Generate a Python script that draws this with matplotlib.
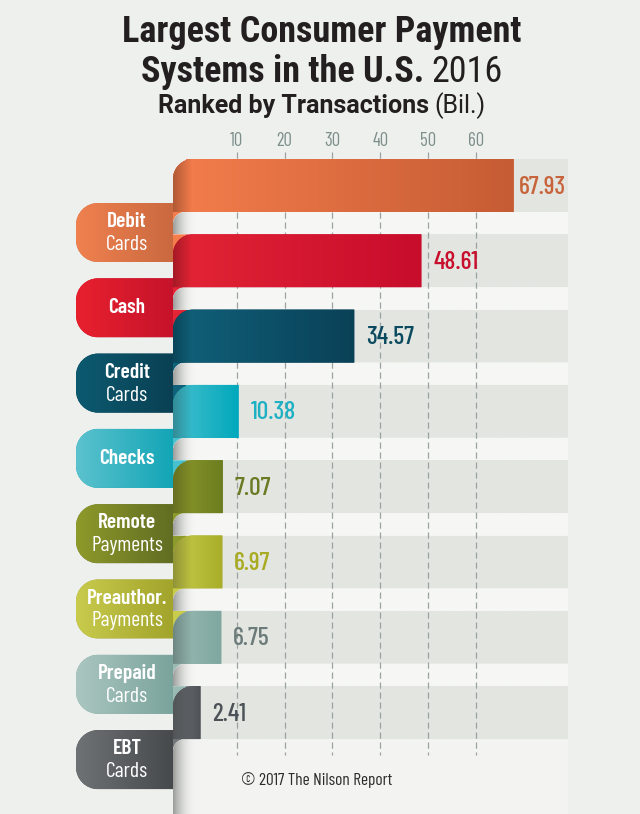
import numpy as np
import matplotlib
matplotlib.use("Agg")
import matplotlib.pyplot as plt
from matplotlib.path import Path
from matplotlib.patches import PathPatch
from matplotlib.colors import LinearSegmentedColormap, to_rgba

FONT = ['Barlow Condensed', 'Roboto Condensed', 'DejaVu Sans']
TITLE_FONT = ['Roboto Condensed', 'Barlow Condensed', 'DejaVu Sans']
SUB_FONT = ['Roboto', 'Roboto Condensed', 'DejaVu Sans']

# data
categories = ["Debit\nCards", "Cash", "Credit\nCards", "Checks", "Remote\nPayments",
              "Preauthor.\nPayments", "Prepaid\nCards", "EBT\nCards"]
values = [67.93, 48.61, 34.57, 10.38, 7.07, 6.97, 6.75, 2.41]
tick_values = [10, 20, 30, 40, 50, 60]

bar_colors = [("#f47d4c", "#c65c34"), ("#e42535", "#c70c2c"), ("#10617a", "#0a4157"),
              ("#48c0cf", "#00a8bb"), ("#8d9a2d", "#6c7d1f"), ("#c8cc4c", "#a8ae28"),
              ("#9abbb4", "#7fa6a0"), ("#74787c", "#4e5256")]
label_colors = [("#f0814f", "#c8683f"), ("#e8202e", "#c4132b"), ("#0c5a70", "#0a3f52"),
                ("#5cc2ce", "#0fa4b5"), ("#8e9a2a", "#5f6b22"), ("#c8cb4c", "#a0a22a"),
                ("#abc6c0", "#78a29b"), ("#6e7275", "#45484b")]
value_colors = ["#c8643c", "#c8102e", "#0b4a5f", "#20b0c4", "#6b7a25", "#a9ab22",
                "#6b7b79", "#4c5257"]

W, H = 640, 814
X0, SX = 189.0, 4.78   # pixel of value 0, px per unit
Y0, SY = 185.5, 75.3   # pixel centre of first bar, px per row

fig = plt.figure(figsize=(6.4, 8.14), dpi=100)
fig.patch.set_facecolor('#eef0ee')
ax = fig.add_axes([0, 0, 1, 1])
ax.axis('off')
ax.set_xlim(-X0 / SX, (W - X0) / SX)
ax.set_ylim((H - Y0) / SY, -Y0 / SY)
renderer = fig.canvas.get_renderer()


def px_x(p):
    return (p - X0) / SX


def px_y(p):
    return (p - Y0) / SY


K = 0.5523


def rounded(x0, x1, yt, yb, r_tl, r_bl):
    rxt, ryt = r_tl / SX, r_tl / SY
    rxb, ryb = r_bl / SX, r_bl / SY
    verts = [(x1, yt), (x0 + rxt, yt),
             (x0 + rxt * (1 - K), yt), (x0, yt + ryt * (1 - K)), (x0, yt + ryt),
             (x0, yb - ryb),
             (x0, yb - ryb * (1 - K)), (x0 + rxb * (1 - K), yb), (x0 + rxb, yb),
             (x1, yb), (x1, yt)]
    codes = [Path.MOVETO, Path.LINETO, Path.CURVE4, Path.CURVE4, Path.CURVE4, Path.LINETO,
             Path.CURVE4, Path.CURVE4, Path.CURVE4, Path.LINETO, Path.CLOSEPOLY]
    return Path(verts, codes)


def fill(path, c1, c2, z, xa=None, xb=None):
    patch = PathPatch(path, facecolor=c2 if xa is None else 'none', edgecolor='none', zorder=z)
    ax.add_patch(patch)
    ext = path.get_extents()
    if xa is None:
        xa, xb = ext.x0, ext.x1
    cmap = LinearSegmentedColormap.from_list('g', [to_rgba(c1), to_rgba(c2)])
    im = ax.imshow(np.linspace(0, 1, 256)[None, :], cmap=cmap, extent=[xa, xb, ext.y1, ext.y0],
                   aspect='auto', zorder=z + 0.01, interpolation='bilinear')
    im.set_clip_path(patch)
    return patch


left = px_x(173)
right = px_x(568)
half = 26.5 / SY
n = len(values)

for i, (cat, v) in enumerate(zip(categories, values)):
    top, bot = i - half, i + half
    lc = i + 47 / SY
    # label pill
    fill(rounded(px_x(76), px_x(176), lc - 29.5 / SY, lc + 29.5 / SY, 22, 22),
         label_colors[i][0], label_colors[i][1], 2)
    # curl column hidden behind next ribbon
    fill(rounded(left, px_x(186), top, lc + 29.5 / SY, 20, 0),
         bar_colors[i][0], bar_colors[i][0], 2.5)
    # white back of ribbon (gap band)
    if i > 0:
        band = rounded(left, right, i - 1 + half, top + 0.001, 12, 0)
        fill(band, "#f6f7f5", "#f6f7f5", 3)
        fill(band, "#9a9c9a", to_rgba("#f6f7f5", 0), 3.1, left, px_x(196))
    # track
    ax.barh(i, right - v, left=v, height=2 * half, color="#e3e6e0", zorder=3)
    # bar
    bar = rounded(left, v, top, bot, 20, 0)
    fill(bar, bar_colors[i][0], bar_colors[i][1], 5)
    fill(bar, to_rgba('k', 0.28), to_rgba('k', 0), 5.1, left, px_x(192))
    # value
    t = ax.text(v + 12 / SX, i + 0.02, f"{v:.2f}", ha='left', va='center', fontsize=18.5,
                family=FONT, fontweight='medium', color=value_colors[i], zorder=7)
    if t.get_window_extent(renderer).x1 > 566:
        t.set_x(px_x(566))
        t.set_ha('right')
    # category text
    lines = cat.split("\n")
    cx = px_x(127)
    if len(lines) == 1:
        ax.text(cx, lc, lines[0], ha='center', va='center', fontsize=15.5, family=FONT,
                fontweight='semibold', color='white', zorder=7)
    else:
        ax.text(cx, lc - 11 / SY, lines[0], ha='center', va='center', fontsize=15.5, family=FONT,
                fontweight='semibold', color='white', zorder=7)
        ax.text(cx, lc + 12 / SY, lines[1], ha='center', va='center', fontsize=15.5, family=FONT,
                color='white', zorder=7)

# bottom white panel
last = rounded(left, right, n - 1 + half, px_y(814), 12, 0)
fill(last, "#f3f4f2", "#f3f4f2", 3)
fill(last, "#9a9c9a", to_rgba("#f3f4f2", 0), 3.1, left, px_x(196))

# grid + ticks
ax.vlines(tick_values, px_y(152), px_y(755), colors="#9aa3a1", linewidth=0.9,
          linestyles=(0, (5, 3)), zorder=4)
for tv in tick_values:
    ax.text(tv, px_y(141), str(tv), ha='center', va='center', fontsize=13.5, family=FONT,
            color="#7d8f8b")


# titles
def title_line(parts, y_base, size, family, gap=7):
    texts = [fig.text(0, 1 - y_base / H, s, fontsize=size, fontweight=w, family=family,
                      va='baseline', ha='left', color='#231f20') for s, w in parts]
    widths = [tx.get_window_extent(renderer).width for tx in texts]
    x = 322 - (sum(widths) + gap * (len(texts) - 1)) / 2
    for tx, wd in zip(texts, widths):
        tx.set_x(x / W)
        x += wd + gap


title_line([("Largest Consumer Payment", 'bold')], 42, 26, TITLE_FONT)
title_line([("Systems in the U.S.", 'bold'), ("2016", 'normal')], 82, 26, TITLE_FONT)
title_line([("Ranked by Transactions", 'bold'), ("(Bil.)", 'normal')], 113, 18, SUB_FONT,
           gap=5)

fig.text(241 / W, 1 - 785 / H, "\u00a9 2017 The Nilson Report", fontsize=12.5, family=FONT,
         color='#2b2b2b', va='baseline')

fig.savefig("out.png", dpi=100, facecolor=fig.get_facecolor())
